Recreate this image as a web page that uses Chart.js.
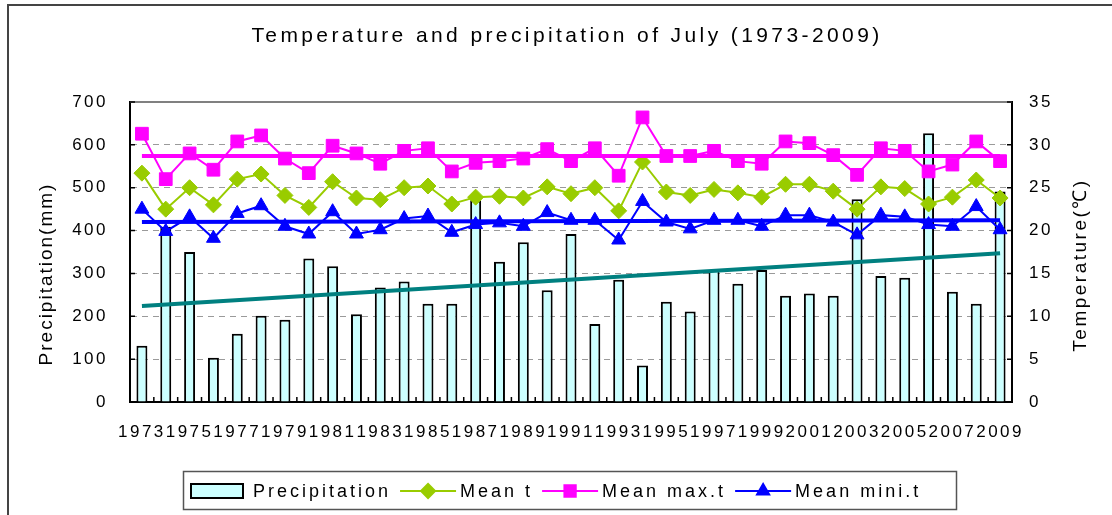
<!DOCTYPE html>
<html lang="en">
<head>
<meta charset="UTF-8">
<title>Temperature and precipitation of July (1973-2009)</title>
<script src="https://cdn.jsdelivr.net/npm/chart.js@4.4.1/dist/chart.umd.min.js"></script>
<style>
    html, body { margin: 0; padding: 0; background: #fff; }
    canvas { display: block; }
</style>
</head>
<body>
<canvas id="chart_july" width="1112" height="515" role="img"
        aria-label="Temperature and precipitation of July (1973-2009)"></canvas>

<script>
    const years = ['1973', '1974', '1975', '1976', '1977', '1978', '1979', '1980', '1981', '1982',
        '1983', '1984', '1985', '1986', '1987', '1988', '1989', '1990', '1991', '1992',
        '1993', '1994', '1995', '1996', '1997', '1998', '1999', '2000', '2001', '2002',
        '2003', '2004', '2005', '2006', '2007', '2008', '2009'];

    // precipitation (mm)
    const precipitation = [131, 409, 350, 103, 159, 201, 192, 335, 317, 205,
        267, 281, 229, 229, 471, 327, 373, 261, 392, 182,
        285, 85, 234, 211, 308, 276, 308, 248, 253, 248,
        473, 294, 290, 627, 257, 229, 491];

    // temperatures (deg C)
    const meanT = [26.7, 22.5, 25.0, 23.0, 26.0, 26.6, 24.1, 22.7, 25.7, 23.8,
        23.6, 25.0, 25.2, 23.1, 23.9, 24.0, 23.8, 25.1, 24.3, 25.0,
        22.3, 28.0, 24.5, 24.1, 24.8, 24.4, 23.9, 25.4, 25.4, 24.6,
        22.5, 25.1, 24.9, 23.1, 23.9, 25.9, 23.8];
    const meanMax = [31.3, 26.0, 29.0, 27.1, 30.4, 31.1, 28.4, 26.7, 29.9, 29.0,
        27.8, 29.3, 29.6, 26.9, 27.9, 28.1, 28.4, 29.5, 28.1, 29.6,
        26.4, 33.2, 28.7, 28.7, 29.3, 28.1, 27.8, 30.4, 30.2, 28.8,
        26.5, 29.6, 29.3, 26.9, 27.7, 30.4, 28.1];
    const meanMin = [22.5, 19.9, 21.6, 19.1, 22.0, 22.9, 20.5, 19.6, 22.2, 19.6,
        20.1, 21.4, 21.7, 19.8, 20.7, 20.9, 20.5, 22.1, 21.2, 21.2,
        18.9, 23.4, 21.0, 20.2, 21.2, 21.2, 20.5, 21.8, 21.8, 21.0,
        19.5, 21.8, 21.6, 20.7, 20.5, 22.8, 20.1];

    // linear trend lines, value at 1973 and at 2009
    const precipTrend = [224, 347];
    const maxTrend = [28.7, 28.7];
    const minTrend = [21.0, 21.2];

    const FONT = "'Liberation Sans', Arial, sans-serif";

    function trendSeries(ends) {
        let out = years.map(() => null);
        out[0] = ends[0];
        out[out.length - 1] = ends[1];
        return out;
    }

    function verticalText(ctx, text, x, y, spacing) {
        ctx.save();
        ctx.translate(x, y);
        ctx.rotate(-Math.PI / 2);
        ctx.letterSpacing = spacing;
        ctx.font = '19px ' + FONT;
        ctx.fillStyle = '#000';
        ctx.textAlign = 'center';
        ctx.textBaseline = 'middle';
        ctx.fillText(text, 0, 0);
        ctx.restore();
    }

    const framePlugin = {
        id: 'frame',
        beforeDraw(chart) {
            const ctx = chart.ctx;
            ctx.save();
            ctx.fillStyle = '#fff';
            ctx.fillRect(0, 0, chart.width, chart.height);
            ctx.strokeStyle = '#444';
            ctx.lineWidth = 2;
            ctx.beginPath();
            ctx.moveTo(8, chart.height);
            ctx.lineTo(8, 5);
            ctx.lineTo(chart.width, 5);
            ctx.stroke();
            ctx.restore();
            ctx.letterSpacing = '2.5px';
        },
        afterDraw(chart) {
            const {ctx, chartArea: a, scales} = chart;
            ctx.save();
            // grey top edge of plot area
            ctx.strokeStyle = '#808080';
            ctx.lineWidth = 2;
            ctx.beginPath();
            ctx.moveTo(a.left, a.top);
            ctx.lineTo(a.right, a.top);
            ctx.stroke();
            // inward tick marks
            ctx.strokeStyle = '#000';
            ctx.lineWidth = 1.5;
            ctx.beginPath();
            scales.y.ticks.forEach(t => {
                const py = scales.y.getPixelForValue(t.value);
                ctx.moveTo(a.left, py);
                ctx.lineTo(a.left + 5, py);
            });
            scales.y1.ticks.forEach(t => {
                const py = scales.y1.getPixelForValue(t.value);
                ctx.moveTo(a.right - 5, py);
                ctx.lineTo(a.right, py);
            });
            for (let i = 1; i < years.length; i++) {
                const px = (scales.x.getPixelForValue(i - 1) + scales.x.getPixelForValue(i)) / 2;
                ctx.moveTo(px, a.bottom);
                ctx.lineTo(px, a.bottom - 5);
            }
            ctx.stroke();

            // chart title
            ctx.letterSpacing = '3.4px';
            ctx.font = '21px ' + FONT;
            ctx.fillStyle = '#000';
            ctx.textAlign = 'center';
            ctx.textBaseline = 'middle';
            ctx.fillText('Temperature and precipitation of July (1973-2009)', 567, 36);
            ctx.restore();

            // axis titles, both read bottom to top
            verticalText(ctx, 'Precipitation(mm)', 47, 274, '2px');
            verticalText(ctx, 'Temperature(℃)', 1081, 265, '2.5px');
            ctx.letterSpacing = '0px';
        }
    };

    const legendPlugin = {
        id: 'boxLegend',
        afterDraw(chart) {
            const ctx = chart.ctx;
            const sets = chart.data.datasets.filter(d => d.inLegend);
            ctx.save();
            ctx.strokeStyle = '#555';
            ctx.lineWidth = 1.5;
            ctx.strokeRect(183.5, 471.5, 773, 38);
            ctx.letterSpacing = '3px';
            ctx.font = '18px ' + FONT;
            ctx.textBaseline = 'middle';
            const cy = 491;
            let x = 191;
            sets.forEach(d => {
                if (d.type === 'bar') {
                    ctx.fillStyle = d.backgroundColor;
                    ctx.fillRect(x, cy - 7, 52, 14);
                    ctx.strokeStyle = '#000';
                    ctx.lineWidth = 2;
                    ctx.strokeRect(x, cy - 7, 52, 14);
                    x += 62;
                } else {
                    ctx.strokeStyle = d.borderColor;
                    ctx.lineWidth = 2;
                    ctx.beginPath();
                    ctx.moveTo(x, cy);
                    ctx.lineTo(x + 56, cy);
                    ctx.stroke();
                    ctx.fillStyle = d.borderColor;
                    Chart.helpers.drawPoint(ctx, {
                        pointStyle: d.pointStyle, radius: d.pointRadius - 1, rotation: 0, borderWidth: 1
                    }, x + 28, cy);
                    x += 60;
                }
                ctx.fillStyle = '#000';
                ctx.fillText(d.label, x, cy + 1);
                x += ctx.measureText(d.label).width + 9;
            });
            ctx.restore();
        }
    };

    new Chart(document.getElementById('chart_july'), {
        type: 'bar',
        data: {
            labels: years,
            datasets: [
                {
                    type: 'bar', label: 'Precipitation', inLegend: true, yAxisID: 'y', order: 10,
                    data: precipitation,
                    backgroundColor: '#CCFFFF', borderColor: '#000', borderWidth: 2,
                    barPercentage: 0.46, categoryPercentage: 1.0,
                },
                {
                    type: 'line', label: 'Mean t', inLegend: true, yAxisID: 'y1', order: 3,
                    data: meanT,
                    borderColor: '#99CC00', backgroundColor: '#99CC00', borderWidth: 2,
                    pointStyle: 'rectRot', pointRadius: 8, pointBorderWidth: 1,
                },
                {
                    type: 'line', label: 'Mean max.t', inLegend: true, yAxisID: 'y1', order: 2,
                    data: meanMax,
                    borderColor: '#FF00FF', backgroundColor: '#FF00FF', borderWidth: 2,
                    pointStyle: 'rect', pointRadius: 9, pointBorderWidth: 1,
                },
                {
                    type: 'line', label: 'Mean mini.t', inLegend: true, yAxisID: 'y1', order: 4,
                    data: meanMin,
                    borderColor: '#0000FF', backgroundColor: '#0000FF', borderWidth: 2,
                    pointStyle: 'triangle', pointRadius: 8, pointBorderWidth: 1,
                },
                {
                    type: 'line', label: 'Precipitation trend', yAxisID: 'y', order: 5,
                    data: trendSeries(precipTrend), spanGaps: true,
                    borderColor: '#008080', borderWidth: 4, pointRadius: 0,
                },
                {
                    type: 'line', label: 'Mean max.t trend', yAxisID: 'y1', order: 1,
                    data: trendSeries(maxTrend), spanGaps: true,
                    borderColor: '#FF00FF', borderWidth: 4, pointRadius: 0,
                },
                {
                    type: 'line', label: 'Mean mini.t trend', yAxisID: 'y1', order: 1,
                    data: trendSeries(minTrend), spanGaps: true,
                    borderColor: '#0000FF', borderWidth: 4, pointRadius: 0,
                },
            ]
        },
        options: {
            responsive: false,
            animation: false,
            devicePixelRatio: 1,
            layout: {padding: {top: 102, left: 0, right: 0, bottom: 0}},
            plugins: {
                legend: {display: false},
                tooltip: {enabled: false},
                title: {display: false},
            },
            scales: {
                x: {
                    grid: {display: false, drawTicks: false},
                    border: {color: '#000', width: 2},
                    ticks: {
                        autoSkip: false, maxRotation: 0, minRotation: 0, padding: 20,
                        color: '#000', font: {family: FONT, size: 17},
                        callback: function (value, index) {
                            return index % 2 === 0 ? this.getLabelForValue(value) : '';
                        },
                    },
                    afterFit: s => { s.height = 113; },
                },
                y: {
                    position: 'left', min: 0, max: 700,
                    ticks: {stepSize: 100, padding: 22, color: '#000', font: {family: FONT, size: 17}},
                    grid: {
                        drawTicks: false, lineWidth: 1,
                        color: c => (c.tick && (c.tick.value === 0 || c.tick.value === 700)) ? 'rgba(0,0,0,0)' : '#9a9a9a',
                    },
                    border: {color: '#000', width: 2, dash: [6, 5]},
                    afterFit: s => { s.width = 130; },
                },
                y1: {
                    position: 'right', min: 0, max: 35,
                    ticks: {stepSize: 5, padding: 17, color: '#000', font: {family: FONT, size: 17}},
                    grid: {display: false, drawTicks: false},
                    border: {color: '#000', width: 2},
                    afterFit: s => { s.width = 100; },
                },
            },
        },
        plugins: [framePlugin, legendPlugin],
    });
</script>
</body>
</html>
